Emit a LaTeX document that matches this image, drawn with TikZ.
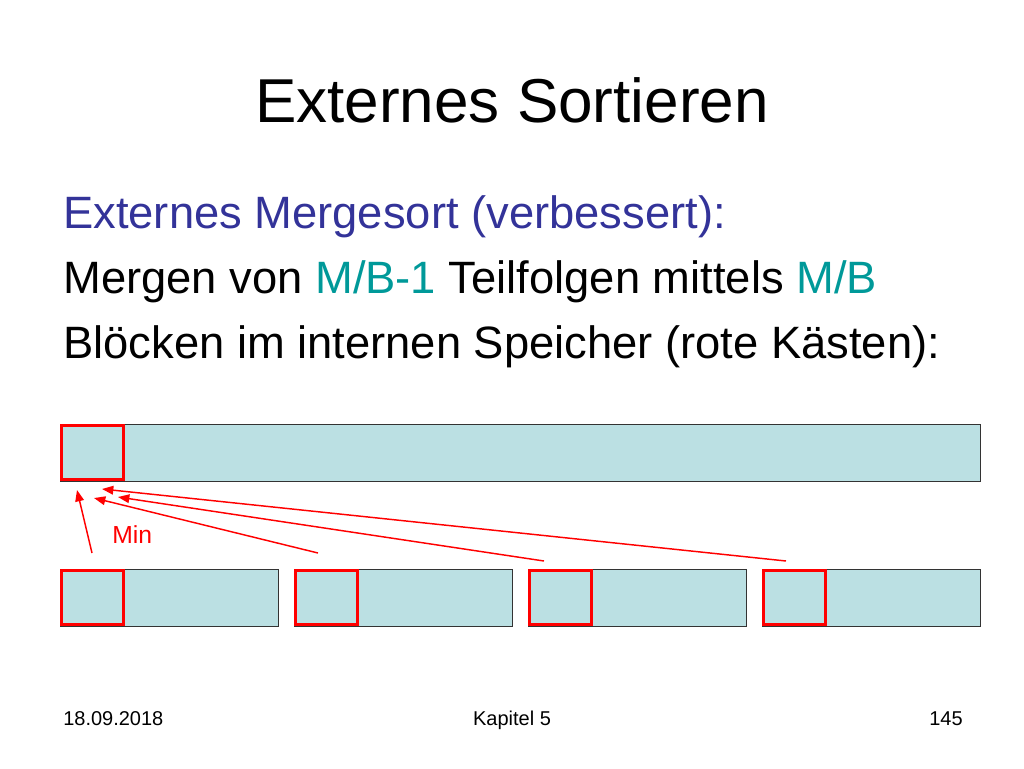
\documentclass[tikz,border=0pt]{standalone}
\usepackage{fontspec}
\setmainfont{Liberation Sans}
\usepackage{xcolor}
\usetikzlibrary{positioning,arrows.meta}
\definecolor{titelblau}{HTML}{333399}
\definecolor{tuerkis}{HTML}{009999}
\definecolor{rot}{HTML}{FF0000}
\definecolor{blockfarbe}{HTML}{BBE0E3}
\tikzset{
  folge/.style={draw=black!80, fill=blockfarbe, line width=0.9pt, minimum height=57*0.75pt, inner sep=0pt, anchor=north west},
  puffer/.style={draw=rot, line width=2.3pt, minimum width=62*0.75pt, minimum height=54*0.75pt, inner sep=0pt, anchor=north west},
  pfeil/.style={->, >={Stealth[length=8.5pt,width=6.5pt,inset=0pt]}, draw=rot, line width=1.1pt},
  zeile/.style={anchor=base west, inner sep=0pt, font=\fontsize{34}{40}\selectfont},
  fuss/.style={inner sep=0pt, font=\fontsize{15}{18}\selectfont}
}
\begin{document}
\begin{tikzpicture}[x=0.75pt,y=-0.75pt]
        \useasboundingbox (0,0) rectangle (1024,768);
        \node[anchor=base, inner sep=0pt, font=\fontsize{46.5}{56}\selectfont] (titel) at (512,122) {Externes Sortieren}; %Titel
        \node[zeile, text=titelblau] (zeile1) at (63,228) {Externes Mergesort (verbessert):};
        \node[zeile] (zeile2) at (63,293) {Mergen von \textcolor{tuerkis}{M/B-1} Teilfolgen mittels \textcolor{tuerkis}{M/B}};
        \node[zeile] (zeile3) at (63,358) {Blöcken im internen Speicher (rote Kästen):};
        \node[folge, minimum width=920*0.75pt] (aus) at (60,424) {}; %Ausgabe
        \node[puffer] (ausp) at (60,424) {}; %Ausgabepuffer
        \foreach \i in {1,...,4}{
            \node[folge, minimum width=218*0.75pt] (ein\i) at ({60+234*(\i-1)},569) {}; %Teilfolge
            \node[puffer] (einp\i) at ({60+234*(\i-1)},569) {}; %Eingabepuffer
        }
        \coordinate (s1) at (92,553); \coordinate (z1) at (77,490);
        \coordinate (s2) at (318,553); \coordinate (z2) at (94,498);
        \coordinate (s3) at (544,561); \coordinate (z3) at (118,497);
        \coordinate (s4) at (786,561); \coordinate (z4) at (102,489);
        \foreach \i in {1,...,4} \draw[pfeil] (s\i) -- (z\i);
        \node[anchor=base west, inner sep=0pt, text=rot, font=\fontsize{18.5}{22}\selectfont] (min) at (112,543) {Min};
        \node[fuss, anchor=base west] (datum) at (63,725) {18.09.2018};
        \node[fuss, anchor=base] (kapitel) at (512,725) {Kapitel 5};
        \node[fuss, anchor=base east] (seite) at (963,725) {145};
\end{tikzpicture}
\end{document}
